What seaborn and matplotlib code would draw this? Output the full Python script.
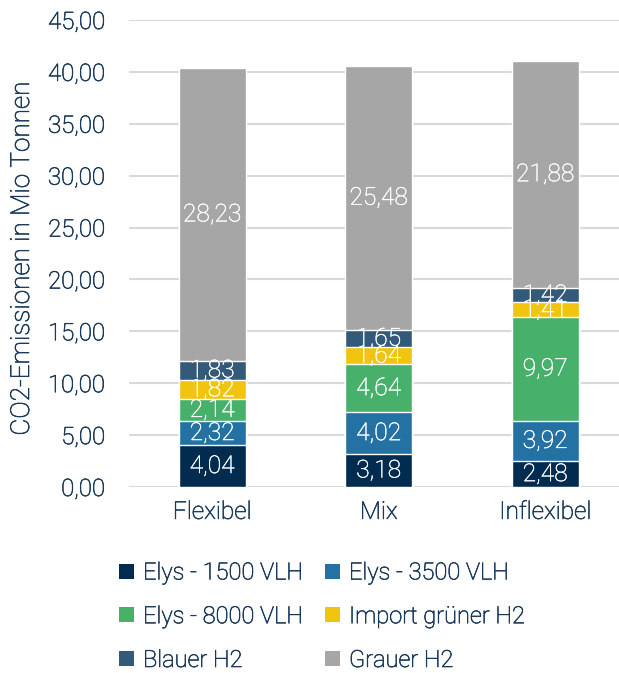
import matplotlib
matplotlib.use("Agg")
import matplotlib.pyplot as plt
import matplotlib.patheffects as pe
from matplotlib.patches import Patch
import seaborn as sns
import numpy as np
import pandas as pd

categories = ["Flexibel", "Mix", "Inflexibel"]
series = ["Elys - 1500 VLH", "Elys - 3500 VLH", "Elys - 8000 VLH",
          "Import grüner H2", "Blauer H2", "Grauer H2"]
elys_1500 = [4.04, 3.18, 2.48]
elys_3500 = [2.32, 4.02, 3.92]
elys_8000 = [2.14, 4.64, 9.97]
import_gruen = [1.82, 1.64, 1.41]
blauer = [1.83, 1.65, 1.42]
grauer = [28.23, 25.48, 21.88]
colors = ["#022c4f", "#2472a4", "#47b06b", "#f1c40f", "#345a79", "#a6a6a6"]
y_ticks = [0, 5, 10, 15, 20, 25, 30, 35, 40, 45]

values = np.array([elys_1500, elys_3500, elys_8000, import_gruen, blauer, grauer])
tops = values.cumsum(axis=0)

sns.set_style("white")
plt.rcParams["font.family"] = ["Roboto", "DejaVu Sans"]
text_color = "#1a3a5c"
weight = "light"
# slight outline so the light face reads a touch heavier
thicken = [pe.withStroke(linewidth=0.45, foreground=text_color)]
thicken_white = [pe.withStroke(linewidth=0.3, foreground="white")]

fig = plt.figure(figsize=(6.19, 6.73), dpi=100)
ax = fig.add_axes([129 / 619, (673 - 487) / 673, (619 - 129) / 619, (487 - 20) / 673])

# stacked bars: draw cumulative heights from the top segment down
for i in range(len(series) - 1, -1, -1):
    df = pd.DataFrame({"cat": categories, "top": tops[i]})
    sns.barplot(data=df, x="cat", y="top", color=colors[i], width=0.4,
                saturation=1, ax=ax, zorder=3)

for i in range(len(series)):
    for j in range(len(categories)):
        ax.text(j, tops[i, j] - values[i, j] / 2, f"{values[i, j]:.2f}".replace(".", ","),
                ha="center", va="center", color="white", fontsize=17.7,
                fontweight="light", zorder=5, path_effects=thicken_white)

ax.set_ylim(0, 45)
ax.set_xlim(-0.5, -0.5 + 490 / 166.5)
ax.set_yticks(y_ticks)
ax.set_yticklabels([f"{v:.2f}".replace(".", ",") for v in y_ticks],
                   fontsize=17.3, fontweight=weight)
ax.set_xticks(range(len(categories)))
ax.set_xticklabels(categories, fontsize=17.6, fontweight=weight)
ax.yaxis.grid(True, color="#d9d9d9", linewidth=1.5, zorder=0)
ax.set_axisbelow(True)
for s in ax.spines.values():
    s.set_visible(False)
ax.tick_params(axis="both", length=0, colors=text_color)
ax.tick_params(axis="y", pad=17)
ax.tick_params(axis="x", pad=10)
ax.set_xlabel("")
ax.set_ylabel("CO2-Emissionen in Mio Tonnen", fontsize=18.8, color=text_color,
              fontweight=weight)
ax.yaxis.set_label_coords(-(129 - 34) / 490, 0.49)

handles = [Patch(facecolor=c, edgecolor="none") for c in colors]
order = [0, 2, 4, 1, 3, 5]
leg = fig.legend([handles[k] for k in order], [series[k] for k in order],
                 ncol=2, loc="upper left", bbox_to_anchor=(110 / 619, 1 - 552 / 673),
                 frameon=False, prop={"size": 17.0, "weight": weight},
                 handlelength=0.6, handleheight=0.6,
                 handletextpad=0.4, columnspacing=0.95, labelspacing=0.88,
                 borderaxespad=0)
for t in leg.get_texts():
    t.set_color(text_color)

for t in (ax.get_xticklabels() + ax.get_yticklabels() + [ax.yaxis.label]
          + leg.get_texts()):
    t.set_path_effects(thicken)

fig.savefig("out.png", dpi=100)
